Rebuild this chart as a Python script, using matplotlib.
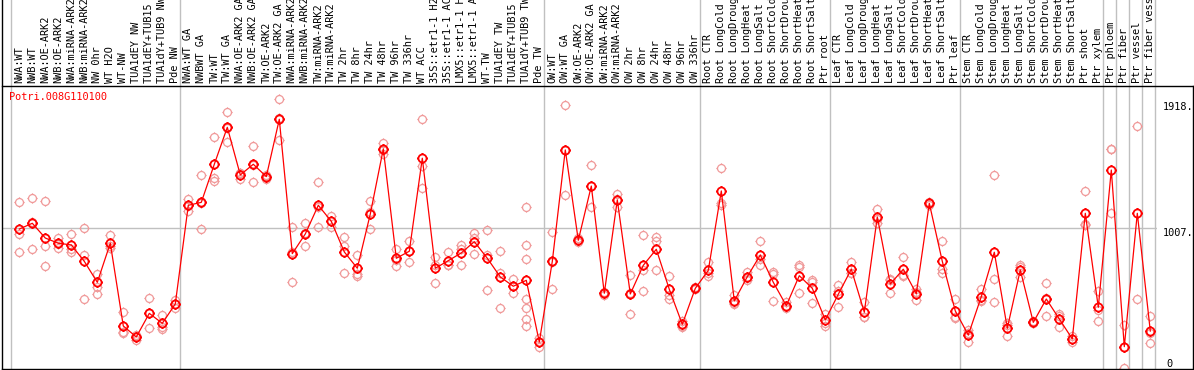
import matplotlib
matplotlib.use('Agg')
import matplotlib.pyplot as plt
import numpy as np
from matplotlib.path import Path
from matplotlib.lines import Line2D
import matplotlib.transforms as mtransforms

gene = "Potri.008G110100"

samples = [
    "NWA:WT", "NWB:WT", "NWA:OE-ARK2", "NWB:OE-ARK2", "NWA:miRNA-ARK2", "NWB:miRNA-ARK2",
    "NW 0hr", "WT H2O", "WT-NW", "TUA1dEY NW", "TUA1dEY+TUB15 NW", "TUA1dY+TUB9 NW", "Pde NW",
    "NWA:WT GA", "NWBWT GA", "TW:WT", "TW:WT GA", "NWA:OE-ARK2 GA", "NWB:OE-ARK2 GA",
    "TW:OE-ARK2", "TW:OE-ARK2 GA", "NWA:miRNA-ARK2 GA", "NWB:miRNA-ARK2 GA", "TW:miRNA-ARK2",
    "TW:miRNA-ARK2 GA", "TW 2hr", "TW 8hr", "TW 24hr", "TW 48hr", "TW 96hr", "TW 336hr",
    "WT ACC", "35S::etr1-1 H2O", "35S::etr1-1 ACC", "LMX5::etr1-1 H2O", "LMX5::etr1-1 ACC",
    "WT-TW", "TUA1dEY TW", "TUA1dEY+TUB15 TW", "TUA1dY+TUB9 TW", "Pde TW",
    "OW:WT", "OW:WT GA", "OW:OE-ARK2", "OW:OE-ARK2 GA", "OW:miRNA-ARK2", "OW:miRNA-ARK2 GA",
    "OW 2hr", "OW 8hr", "OW 24hr", "OW 48hr", "OW 96hr", "OW 336hr",
    "Root CTR", "Root LongCold", "Root LongDrought", "Root LongHeat", "Root LongSalt",
    "Root ShortCold", "Root ShortDrought", "Root ShortHeat", "Root ShortSalt", "Ptr root",
    "Leaf CTR", "Leaf LongCold", "Leaf LongDrought", "Leaf LongHeat", "Leaf LongSalt",
    "Leaf ShortCold", "Leaf ShortDrought", "Leaf ShortHeat", "Leaf ShortSalt", "Ptr leaf",
    "Stem CTR", "Stem LongCold", "Stem LongDrought", "Stem LongHeat", "Stem LongSalt",
    "Stem ShortCold", "Stem ShortDrought", "Stem ShortHeat", "Stem ShortSalt",
    "Ptr shoot", "Ptr xylem", "Ptr phloem", "Ptr fiber", "Ptr vessel", "Ptr fiber vessel",
]

# mean expression per sample
means = [
    996, 1037, 932, 895, 883, 766, 617, 895, 306, 228, 396, 325, 463,
    1165, 1186, 1457, 1720, 1381, 1457, 1369, 1777, 821, 961, 1165, 1051,
    833, 717, 1103, 1566, 788, 838, 1500, 717, 771, 826, 906, 788, 655, 589, 631, 192,
    766, 1559, 916, 1302, 539, 1203, 534, 738, 852, 567, 318, 574,
    702, 1267, 484, 657, 811, 617, 451, 664, 574, 349,
    532, 710, 404, 1082, 605, 710, 536, 1179, 766, 413,
    242, 515, 831, 290, 705, 332, 498, 356, 214, 1108, 439,
    1416, 159, 1108, 270,
]

# individual replicates
reps = [
    [1186, 961, 835], [1215, 852, 1044], [1194, 878, 733], [934, 863, 888],
    [961, 835, 853], [1003, 813, 498], [676, 581, 534], [954, 859, 872],
    [404, 254, 260], [242, 206, 236], [503, 290, 395], [384, 301, 283],
    [491, 432, 466], [1210, 1124, 1161], [1379, 996, 1183], [1653, 1357, 1340],
    [1827, 1618, 1715], [1393, 1352, 1398], [1587, 1329, 1455], [1352, 1375, 1380],
    [1918, 1630, 1783], [1013, 619, 831], [1037, 875, 971], [1329, 1011, 1155],
    [1089, 1013, 1051], [939, 878, 683], [811, 674, 662], [1198, 996, 1115],
    [1611, 1530, 1557], [854, 731, 779], [911, 762, 841], [1777, 1445, 1286],
    [799, 610, 742], [831, 740, 742], [883, 740, 855], [966, 818, 934],
    [987, 811, 562], [838, 681, 432], [638, 539, 590],
    [1151, 880, 781, 496, 436, 356, 308],
    [223, 159, 194], [973, 567, 758], [1879, 1236, 1562], [930, 905, 913],
    [1450, 1151, 1305], [545, 530, 542], [1245, 1155, 1209], [669, 389, 544],
    [952, 705, 555], [942, 913, 702], [662, 527, 496], [344, 301, 309],
    [580, 570, 572], [762, 664, 680], [1428, 1184, 1167], [525, 460, 467],
    [692, 633, 646], [913, 740, 780], [688, 484, 679], [479, 432, 442],
    [740, 728, 539], [633, 621, 468], [389, 325, 306], [598, 443, 555],
    [764, 681, 685], [479, 372, 368], [1139, 1041, 1066], [633, 539, 643],
    [797, 662, 671], [567, 491, 550], [1186, 1170, 1181], [909, 710, 681],
    [496, 368, 361], [278, 194, 254], [569, 491, 485], [1379, 638, 477],
    [325, 235, 310], [738, 653, 724], [340, 328, 328], [612, 377, 505],
    [389, 301, 378], [235, 194, 213], [1265, 1025, 1032], [555, 342, 420],
    [1568, 1563, 1108], [313, 157, 5], [1729, 498], [377, 254, 183],
]

# group boundaries (after these sample positions)
group_breaks = [-1, 12, 40, 52, 62, 72, 83, 84, 85, 86, 87]

W, H = 1194, 370
fig = plt.figure(figsize=(W / 100, H / 100), dpi=100)
fig.patch.set_facecolor('white')

top_px, bot_px, left_px, right_px = 86, 369, 1.5, 1157
ax = fig.add_axes([left_px / W, 1 - bot_px / H, (right_px - left_px) / W, (bot_px - top_px) / H])
ax.set_xlim((left_px - 19.3) / 13, (right_px - 19.3) / 13)
ymax = max(max(r) for r in reps)
ax.set_ylim(0, ymax * 1.05)
for s in ax.spines.values():
    s.set_visible(False)
ax.set_xticks([])
ax.set_yticks([])

x = np.arange(len(samples))
mono = 'DejaVu Sans Mono'

# marker: circle with four small ticks
circ = Path.unit_circle()
t = 1.3
tick_v = [(0, 1), (0, t), (0, -1), (0, -t), (1, 0), (t, 0), (-1, 0), (-t, 0)]
tick_c = [Path.MOVETO, Path.LINETO] * 4
mk = Path.make_compound_path(circ, Path(tick_v, tick_c))

# grid line at half of the axis
ax.axhline(ymax * 1.05 / 2, color='#c0c0c0', lw=1.0, zorder=0)

# separators, reaching up through the label band
ext = 1 + (top_px - 0) / (bot_px - top_px)
for b in group_breaks:
    ax.axvline(b + 0.35, ymin=0, ymax=ext, color='#c0c0c0', lw=1.0, clip_on=False, zorder=0)

for i, r in enumerate(reps):
    ax.plot([i] * len(r), r, linestyle='none', marker=mk, ms=7.4, mfc='none',
            mec='#f09a9a', mew=0.9, zorder=2)

ax.plot(x, means, color='red', lw=0.9, marker=mk, ms=7.6, mfc='none', mec='red',
        mew=1.3, zorder=3)

# sample labels
tr = mtransforms.blended_transform_factory(ax.transData, ax.transAxes)
lab_y = 1 + (top_px - 83) / (bot_px - top_px)
for i, s in enumerate(samples):
    ax.text(i, lab_y, s, rotation=90, ha='center', va='bottom', family=mono,
            fontsize=7.4, color='black', transform=tr, clip_on=False)

ax.text(8 / (right_px - left_px), 1 - 11 / (bot_px - top_px), gene, transform=ax.transAxes,
        family=mono, fontsize=7.4, color='red', ha='left', va='center')

# value labels on the right
trr = mtransforms.blended_transform_factory(ax.transAxes, ax.transData)
down = mtransforms.offset_copy(trr, fig=fig, x=0, y=-3, units='dots')
lx = 1 + 6 / (right_px - left_px)
ax.text(lx, ymax, f"{ymax:.0f}.", transform=down, family=mono, fontsize=7.4,
        ha='left', va='top', clip_on=False)
ax.text(lx, ymax * 1.05 / 2, f"{ymax * 1.05 / 2:.0f}.", transform=trr, family=mono,
        fontsize=7.4, ha='left', va='top', clip_on=False)
ax.text(lx + 3 / (right_px - left_px), 0, "0", transform=trr, family=mono, fontsize=7.4,
        ha='left', va='bottom', clip_on=False)

# frame lines
def fline(x0, y0, x1, y1):
    fig.add_artist(Line2D([x0 / W, x1 / W], [1 - y0 / H, 1 - y1 / H], color='black', lw=1.0))

fline(1.5, top_px, 1192.5, top_px)
fline(1.5, 0, 1.5, bot_px)
fline(1.5, bot_px, 1192.5, bot_px)
fline(1192.5, top_px, 1192.5, bot_px)

fig.savefig('out.png', dpi=100)
